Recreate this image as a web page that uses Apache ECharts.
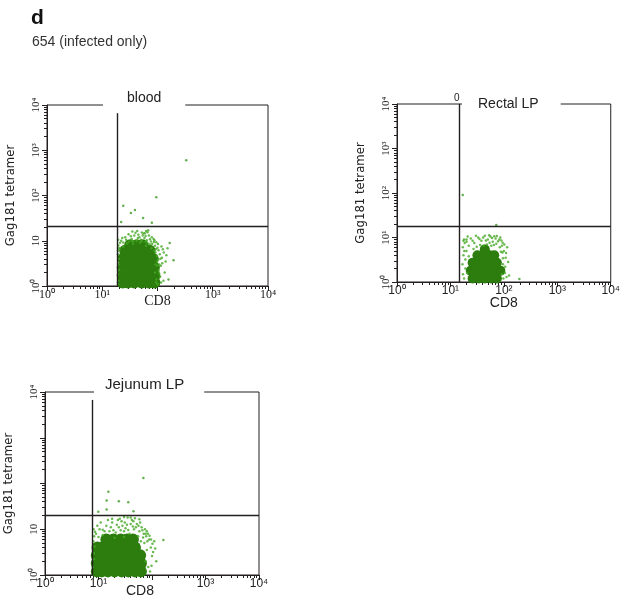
<!DOCTYPE html>
<html><head><meta charset="utf-8">
<script src="https://cdn.jsdelivr.net/npm/echarts@6/dist/echarts.min.js"></script>
<style>html,body{margin:0;padding:0;background:#fff}#c{width:623px;height:599px}</style>
</head><body><div id="c"></div>
<script>
// ---- tick labels (decades 10^0 .. 10^4) ----
const bloodXLabels   = ['10⁰','10¹','','10³','10⁴'];
const bloodYLabels   = ['10⁰','10','10²','10³','10⁴'];
const rectalXLabels  = ['10⁰','10¹','10²','10³','10⁴'];
const rectalYLabels  = ['10⁰','10¹','10²','10³','10⁴'];
const jejunumXLabels = ['10⁰','10¹','','10³','10⁴'];
const jejunumYLabels = ['10⁰','10','','','10⁴'];

const panelTitles = ['blood','Rectal LP','Jejunum LP'];
const xAxisName = 'CD8';
const yAxisName = 'Gag181 tetramer';

// ---- gates [CD8 cut, top of CD8 gate line, tetramer cut] ----
const gateCD8      = [18.5, 14.8, 7.8];
const gateCD8Top   = [6600, 10000, 6700];
const gateTetramer = [21, 18, 20];

// ---- blood events [CD8, Gag181 tetramer] ----
const bloodCore = [
 [23.5,1.2],[29,1.2],[38,1.2],[52,1.2],[70,1.2],[88,1.2],
 [23.5,1.7],[29,1.7],[38,1.7],[52,1.7],[70,1.7],[88,1.7],
 [23.5,2.6],[29,2.6],[38,2.6],[52,2.6],[70,2.6],[86,2.6],
 [24,4],[30,4],[39,4],[52,4],[68,4],[82,4],
 [26,6],[33,6],[44,6],[58,6],[72,6],
 [32,8],[42,8],[54,8]
];
const bloodSpeckle = [
 [22,10],[26,12],[30,9.5],[34,11],[38,13],[42,10],[47,12],[52,9.8],[58,11.5],[64,10.2],
 [70,13],[76,9.6],[85,11],[95,9.3],[40,15],[56,14.5],[30,14],[24,9.2],[66,15.5],[48,9.2],
 [100,7],[110,5],[98,3.5],[105,2.2],[120,4.2],[96,1.4],[112,1.6],[102,8.5],[125,6.5],[92,5.5],
 [108,3],[115,2.8],[130,5.5],[140,3.5],[118,7.5],[135,2],[145,4.8],[128,1.3],[100,1.1],
 [19.5,8],[19.2,5],[19.8,3],[19.3,1.8],[19.6,1.3],[20.5,6.5],[19.4,10.5],
 [24,7.5],[36,8.6],[62,7.8],[78,6.8],[88,6],[92,3],[90,2],[20,7],
 [43,16.4],[68,17],[59,14.6],[152,6.8],
 [21,9],[27,10.5],[33,12.5],[36,9.8],[44,11.5],[50,10.5],[54,13],[61,9.6],[73,10.8],[80,8.5],
 [86,9.4],[90,7.8],[94,6.6],[97,4.6],[103,3.8],[99,2.8],[107,1.9],[94,1.2],[113,4],[122,3.2],
 [104,6.2],[116,1.2],[88,10.2],[28,8.7],[34,10],[66,8.9],[72,8.4],[20,4],[20.2,2.3],[19.4,1.1],
 [19.3,6],[23,11.5],[45,13.6],[52,15.2],[61,12.7],[79,12],[35,16],[62,16.5]
];
const bloodOutliers = [
 [331,603],[95,91],[24,59],[39,48],[33,41],[55,32],[79,25],[22,26],[195,3.7],[158,1.4],[166,8.9]
];

// ---- rectal LP events ----
const rectalCore = [
 [26,1.2],[34,1.2],[44,1.2],[58,1.2],[74,1.2],
 [24,1.8],[32,1.8],[42,1.8],[55,1.8],[72,1.8],[86,1.8],
 [26,2.7],[34,2.7],[45,2.7],[58,2.7],[74,2.7],
 [32,4],[42,4],[54,4],[66,4],
 [44,5.4]
];
const rectalSpeckle = [
 [20,8],[24,9.5],[28,7.5],[33,10],[38,8.5],[44,11],[50,9],[56,10.5],[62,8],[70,9.5],
 [78,8.2],[86,10],[95,7.6],[48,7],[36,6.8],[58,6.5],
 [17,6],[17.5,4],[16.8,2.5],[17.2,1.5],[18,1.2],[18.5,7.5],[19,3.2],[20,5],
 [100,5],[108,3.5],[96,2.5],[115,6],[104,1.6],[120,2.8],[110,4.5],[98,1.2],[125,1.4],[92,6.5],
 [18,9],[21,10.5],[22,6.5],[26,8.5],[27,5.5],[30,11],[31,6.2],[35,9.2],[41,10],[42,6.5],
 [46,8.6],[53,11.2],[54,7.6],[60,9.8],[65,6.8],[66,10.6],[72,7.2],[74,10.8],[82,9],[84,6],
 [90,8.6],[94,4.6],[102,7],[106,2.2],[112,1.3],[96,3.4],[88,4.8],[92,1.5],[19,2],[18.2,5],
 [17.5,8.5],[20.5,1.6],[22,3.8],[20,9]
];
const rectalOutliers = [
 [72,19],[17,90],[195,1.17]
];

// ---- jejunum LP events ----
const jejunumCore = [
 [9.3,1.2],[11.5,1.2],[15,1.2],[20,1.2],[27,1.2],[36,1.2],[48,1.2],[62,1.2],
 [9.3,1.8],[11.5,1.8],[15,1.8],[20,1.8],[27,1.8],[36,1.8],[48,1.8],[62,1.8],
 [9.3,2.7],[11.5,2.7],[15,2.7],[20,2.7],[27,2.7],[36,2.7],[48,2.7],[60,2.7],
 [9.6,4],[12,4],[16,4],[21,4],[28,4],[37,4],[48,4],
 [14,6],[19,6],[26,6],[34,6],[44,6]
];
const jejunumSpeckle = [
 [9,8],[10.5,10],[12,7.5],[14,12],[16,9],[18,14],[21,8.5],[24,11],[27,15],[30,9],
 [34,12.5],[38,8],[42,16],[46,10],[52,13],[58,9],[64,11],[70,8],[25,17],[35,18],
 [48,17.5],[20,6.5],[30,6.8],[55,7],[62,5.5],
 [8,5.5],[8.2,3],[7.9,1.5],[8.3,7],[8.1,10],
 [72,5],[80,3.5],[76,2],[88,6],[95,4],[85,1.5],[100,2.6],[110,5.5],[78,7],[92,1.2],[68,6.6],[105,3.2],
 [9.5,12],[11,14],[13,9],[15,16],[17,11],[19,9.5],[22,12.5],[23,16],[26,9.5],[28,12],
 [31,14],[32,10.5],[36,9.6],[40,13],[44,11.5],[50,11],[56,12],[60,14],[66,9.5],[74,10],
 [80,9],[84,8],[90,7.2],[96,6],[102,4.8],[115,3.8],[120,2],[98,1.6],[82,5.5],[76,8],
 [10,6.8],[12,9.8],[8.6,8.8],[8.4,4.2],[8.2,2.2],[18,17],[30,18.5],[40,18],[58,16.5],[45,15]
];
const jejunumOutliers = [
 [69,132],[15.3,66],[14.2,42.5],[24,41],[36,39],[9.9,24],[14.2,27],[45,24.6],[163,5.8]
];

// ---------------------------------------------------------------
const panels = [
  {title: panelTitles[0], xl: bloodXLabels, yl: bloodYLabels, core: bloodCore, sp: bloodSpeckle, out: bloodOutliers, coreSize:12,
   grid: {left:47, top:105, width:221, height:181}, font:'Liberation Serif', nameGap:8, namePad:[0,0,0,0]},
  {title: panelTitles[1], xl: rectalXLabels, yl: rectalYLabels, core: rectalCore, sp: rectalSpeckle, out: rectalOutliers, coreSize:10,
   grid: {left:397, top:104, width:215, height:178}, font:'Liberation Sans', nameGap:14, namePad:[0,0,0,0]},
  {title: panelTitles[2], xl: jejunumXLabels, yl: jejunumYLabels, core: jejunumCore, sp: jejunumSpeckle, out: jejunumOutliers, coreSize:12,
   grid: {left:45, top:392, width:214, height:185}, font:'Liberation Sans', nameGap:9, namePad:[0,24,0,0]}
];

const lineColor = '#231f1f';
const grids = [], xAxes = [], yAxes = [], series = [];
panels.forEach((p, i) => {
  grids.push(Object.assign({show:true, borderColor: lineColor, borderWidth:1, backgroundColor:'transparent'}, p.grid));
  const lab = arr => v => arr[Math.round(Math.log10(v))] || '';
  xAxes.push({
    type:'log', logBase:10, min:1, max:10000, gridIndex:i,
    name: xAxisName, nameLocation:'middle', nameGap: p.nameGap, nameMoveOverlap:false,
    nameTextStyle:{fontSize:14, color:'#222', fontFamily:p.font, verticalAlign:'top', padding:p.namePad},
    axisLine:{show:true, lineStyle:{color:lineColor, width:1}},
    axisTick:{show:true, length:5, lineStyle:{color:lineColor}},
    minorTick:{show:true, splitNumber:9, length:3, lineStyle:{color:lineColor}},
    splitLine:{show:false}, minorSplitLine:{show:false},
    axisLabel:{formatter: lab(p.xl), fontSize:12, color:'#222', fontFamily:p.font, margin:3, showMinLabel:true, showMaxLabel:true}
  });
  yAxes.push({
    type:'log', logBase:10, min:1, max:10000, gridIndex:i,
    name: yAxisName, nameLocation:'middle', nameGap:30, nameRotate:90, nameMoveOverlap:false,
    nameTextStyle:{fontSize:13, color:'#222', fontFamily:'Liberation Sans Narrow, DejaVu Sans Condensed, Liberation Sans'},
    axisLine:{show:true, lineStyle:{color:lineColor, width:1}},
    axisTick:{show:true, length:5, lineStyle:{color:lineColor}},
    minorTick:{show:true, splitNumber:9, length:3, lineStyle:{color:lineColor}},
    splitLine:{show:false}, minorSplitLine:{show:false},
    axisLabel:{formatter: lab(p.yl), rotate:90, fontSize:11, color:'#222', fontFamily:'Liberation Serif', margin:5, showMinLabel:true, showMaxLabel:true}
  });
  series.push({
    type:'scatter', xAxisIndex:i, yAxisIndex:i, data:p.core, symbol:'circle', symbolSize:p.coreSize,
    itemStyle:{color:'#2c7d0d', opacity:1}, silent:true, clip:true,
    markLine:{silent:true, symbol:'none', label:{show:false}, animation:false,
      lineStyle:{color:lineColor, width:1.4, type:'solid'},
      data:[
        [{coord:[gateCD8[i], 1]}, {coord:[gateCD8[i], gateCD8Top[i]]}],
        [{coord:[1, gateTetramer[i]]}, {coord:[10000, gateTetramer[i]]}]
      ]}
  });
  series.push({type:'scatter', xAxisIndex:i, yAxisIndex:i, data:p.sp, symbol:'circle', symbolSize:2.5,
    itemStyle:{color:'#46a826'}, silent:true, clip:true});
  series.push({type:'scatter', xAxisIndex:i, yAxisIndex:i, data:p.out, symbol:'circle', symbolSize:2.5,
    itemStyle:{color:'#3c9a22'}, silent:true, clip:true});
});

const titles = [
  {text:'d', left:31, top:8, padding:0, textStyle:{fontSize:21, fontWeight:'bold', color:'#111', fontFamily:'Liberation Sans'}},
  {text:'654 (infected only)', left:32, top:35, padding:0, textStyle:{fontSize:14, fontWeight:'normal', color:'#333', fontFamily:'Liberation Sans'}},
  {text:panelTitles[0], left:103, top:89, padding:[2,24,5,24], backgroundColor:'#fff', textStyle:{fontSize:14, fontWeight:'normal', color:'#222', fontFamily:'Liberation Sans'}},
  {text:panelTitles[1], left:462, top:95, padding:[2,22,3,16], backgroundColor:'#fff', textStyle:{fontSize:14, fontWeight:'normal', color:'#222', fontFamily:'Liberation Sans'}},
  {text:'0', left:454, top:93, padding:0, textStyle:{fontSize:10, fontWeight:'normal', color:'#222', fontFamily:'Liberation Sans'}},
  {text:panelTitles[2], left:94, top:374, padding:[3,20,4,11], backgroundColor:'#fff', textStyle:{fontSize:15, fontWeight:'normal', color:'#222', fontFamily:'Liberation Sans'}}
];

const chart = echarts.init(document.getElementById('c'), null, {renderer:'canvas'});
chart.setOption({
  animation:false, backgroundColor:'#fff',
  title: titles, grid: grids, xAxis: xAxes, yAxis: yAxes, series: series
});
</script></body></html>
